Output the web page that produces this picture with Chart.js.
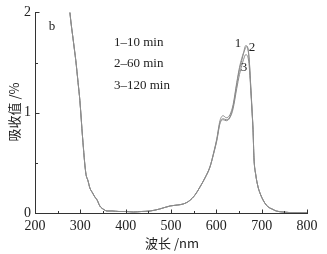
<!DOCTYPE html>
<html>
<head>
<meta charset="utf-8">
<script src="https://cdn.jsdelivr.net/npm/chart.js@4/dist/chart.umd.min.js"></script>
<style>
  html, body { margin: 0; padding: 0; background: #fff; }
  #wrap { width: 327px; height: 254px; position: relative; }
</style>
</head>
<body>
<div id="wrap"><canvas id="specChart" width="327" height="254"></canvas></div>
<script>
// Longitudes de onda (nm) y absorbancias
const wavelengths = [270, 277, 285, 290, 295, 299, 305, 312, 317, 321, 327, 332, 337, 343, 350, 359, 370, 385, 400, 417, 435, 454, 475, 498, 515, 527, 540, 553, 564, 575, 586, 595, 601, 608, 615, 622, 630, 637, 645, 651, 656, 660, 665, 668, 672, 676, 679, 681, 683, 687, 692, 697, 703, 710, 718, 723, 732, 747, 760, 780, 800];

const abs10 = [2.4, 2.0, 1.70, 1.52, 1.30, 1.12, 0.75, 0.40, 0.32, 0.25, 0.20, 0.16, 0.13, 0.07, 0.04, 0.02, 0.02, 0.015, 0.015, 0.01, 0.015, 0.02, 0.04, 0.07, 0.08, 0.09, 0.12, 0.18, 0.26, 0.35, 0.46, 0.62, 0.74, 0.92, 0.97, 0.95, 0.98, 1.08, 1.30, 1.45, 1.54, 1.60, 1.67, 1.66, 1.55, 1.25, 1.00, 0.83, 0.55, 0.38, 0.26, 0.19, 0.13, 0.08, 0.05, 0.04, 0.02, 0.01, 0.005, 0.003, 0.002];
const abs60 = [2.4, 2.0, 1.70, 1.52, 1.30, 1.12, 0.75, 0.40, 0.32, 0.25, 0.20, 0.16, 0.13, 0.07, 0.04, 0.02, 0.02, 0.015, 0.015, 0.01, 0.015, 0.02, 0.04, 0.07, 0.08, 0.09, 0.12, 0.18, 0.26, 0.35, 0.46, 0.61, 0.73, 0.90, 0.94, 0.93, 0.96, 1.06, 1.28, 1.43, 1.52, 1.59, 1.65, 1.66, 1.56, 1.26, 1.01, 0.83, 0.55, 0.38, 0.26, 0.19, 0.13, 0.08, 0.05, 0.04, 0.02, 0.01, 0.005, 0.003, 0.002];
const abs120 = [2.4, 2.0, 1.70, 1.52, 1.30, 1.12, 0.75, 0.40, 0.32, 0.25, 0.20, 0.16, 0.13, 0.07, 0.04, 0.02, 0.02, 0.015, 0.015, 0.01, 0.015, 0.02, 0.04, 0.07, 0.08, 0.09, 0.12, 0.18, 0.26, 0.35, 0.46, 0.61, 0.72, 0.89, 0.93, 0.92, 0.95, 1.04, 1.24, 1.38, 1.47, 1.53, 1.58, 1.57, 1.49, 1.22, 0.99, 0.82, 0.55, 0.38, 0.26, 0.19, 0.13, 0.08, 0.05, 0.04, 0.02, 0.01, 0.005, 0.003, 0.002];

const seriesLabels = ['1–10 min', '2–60 min', '3–120 min'];
const xTicks = [200, 300, 400, 500, 600, 700, 800];
const yTicks = [0, 1, 2];

const serif = '"Liberation Serif", "DejaVu Serif", serif';
const cjk = '"Noto Sans CJK SC", "Noto Sans", sans-serif';
const lineColor = '#8c8c8c';

function toPoints(ys) {
    return wavelengths.map((w, i) => ({ x: w, y: ys[i] }));
}

// Ticks hacia dentro y textos del gráfico
const decoPlugin = {
    id: 'deco',
    afterDraw(chart) {
        const { ctx, scales: { x, y } } = chart;
        ctx.save();
        ctx.strokeStyle = '#333';
        ctx.lineWidth = 1;
        const base = Math.round(y.getPixelForValue(0)) + 0.5;
        const left = Math.round(x.getPixelForValue(200)) + 0.5;
        for (let v = 200; v <= 800; v += 50) {
            const px = Math.round(x.getPixelForValue(v)) + 0.5;
            const len = v % 100 === 0 ? 4 : 2.5;
            ctx.beginPath();
            ctx.moveTo(px, base);
            ctx.lineTo(px, base - len);
            ctx.stroke();
        }
        for (let v = 0; v <= 2; v += 0.5) {
            const py = Math.round(y.getPixelForValue(v)) + 0.5;
            const len = v % 1 === 0 ? 4 : 2.5;
            ctx.beginPath();
            ctx.moveTo(left, py);
            ctx.lineTo(left + len, py);
            ctx.stroke();
        }

        ctx.fillStyle = '#222';
        ctx.textBaseline = 'middle';
        ctx.textAlign = 'center';
        ctx.font = '13px ' + serif;
        ctx.fillText('b', 52, 27);

        ctx.textAlign = 'left';
        ctx.fillText(seriesLabels[0], 114, 43);
        ctx.fillText(seriesLabels[1], 114, 64);
        ctx.fillText(seriesLabels[2], 114, 86);

        ctx.textAlign = 'center';
        ctx.fillText('1', 238, 44);
        ctx.fillText('2', 252, 48);
        ctx.fillText('3', 244, 68);

        ctx.font = '13px ' + cjk;
        ctx.fillText('波长 /nm', 172, 243);
        ctx.translate(14, 112);
        ctx.rotate(-Math.PI / 2);
        ctx.fillText('吸收值 /%', 0, 0);
        ctx.restore();
    }
};

const ctx = document.getElementById('specChart').getContext('2d');
const specChart = new Chart(ctx, {
    type: 'line',
    data: {
        datasets: [abs10, abs60, abs120].map((ys, i) => ({
            label: seriesLabels[i],
            data: toPoints(ys),
            borderColor: lineColor,
            borderWidth: 1,
            pointRadius: 0,
            fill: false,
            cubicInterpolationMode: 'monotone'
        }))
    },
    options: {
        responsive: false,
        animation: false,
        layout: { padding: { top: 12, right: 20, left: 0, bottom: 0 } },
        scales: {
            x: {
                type: 'linear',
                min: 200,
                max: 800,
                afterFit(scale) { scale.height = 41; },
                afterBuildTicks(scale) { scale.ticks = xTicks.map(v => ({ value: v })); },
                grid: { display: false, drawTicks: false, tickLength: 0 },
                border: { display: true, color: '#333', width: 1 },
                ticks: {
                    padding: 5,
                    color: '#222',
                    font: { family: serif, size: 14 }
                }
            },
            y: {
                min: 0,
                max: 2,
                afterFit(scale) { scale.width = 35; },
                afterBuildTicks(scale) { scale.ticks = yTicks.map(v => ({ value: v })); },
                grid: { display: false, drawTicks: false, tickLength: 0 },
                border: { display: true, color: '#333', width: 1 },
                ticks: {
                    padding: 4,
                    color: '#222',
                    font: { family: serif, size: 14 }
                }
            }
        },
        plugins: {
            legend: { display: false },
            tooltip: { enabled: false }
        }
    },
    plugins: [decoPlugin]
});
</script>
</body>
</html>
